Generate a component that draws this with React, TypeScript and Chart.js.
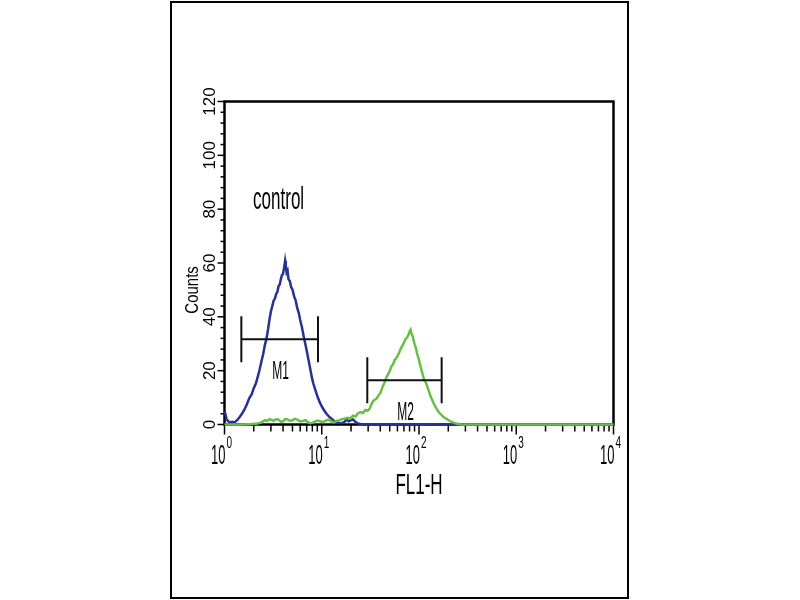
import { useEffect, useRef } from "react";
import { Chart, registerables } from "chart.js";

Chart.register(...registerables);

// blue trace (control)
const blueChannels = [
  1.0, 1.02, 1.05, 1.09, 1.14, 1.2, 1.27, 1.34, 1.42, 1.5, 1.6, 1.7, 1.8, 1.9,
  2.0, 2.1, 2.2, 2.3, 2.4, 2.5, 2.6, 2.7, 2.8, 2.9, 3.0, 3.1, 3.2, 3.3, 3.4,
  3.5, 3.6, 3.7, 3.8, 3.9, 4.0, 4.1, 4.2, 4.27, 4.35, 4.45, 4.55, 4.7, 4.85,
  5.0, 5.2, 5.4, 5.6, 5.8, 6.0, 6.25, 6.5, 6.75, 7.0, 7.3, 7.6, 7.9, 8.2, 8.6,
  9.0, 9.5, 10.0, 10.6, 11.2, 11.9, 12.6, 13.4, 14.2, 15, 16, 17, 18, 19, 20,
  21, 22, 23.5, 25, 27, 10000,
];
const blueCounts = [
  5, 4, 2, 1.2, 0.8, 1, 0.8, 1.5, 2.6, 3.8, 5.5, 7.5, 9.8, 11.2, 13.5, 15.2,
  17.8, 20.5, 23.5, 26.2, 29.5, 31.8, 35.2, 39, 42, 44, 46, 46.8, 48.5, 49.3,
  51.5, 52, 54, 55.5, 56, 58.2, 60.8, 59, 56.5, 57.2, 54, 53.2, 51, 50.2, 47.6,
  46, 43.2, 41.5, 38.8, 36.2, 33, 30.2, 27.5, 24.1, 20.8, 17.6, 15.2, 12.8,
  10.6, 8.4, 6.7, 5.2, 4, 2.9, 2.2, 1.3, 0.8, 0.6, 0.5, 0.9, 1.8, 1.2, 1.6,
  1.9, 1.1, 0.4, 0.2, 0, 0,
];

// green trace (sample)
const greenChannels = [
  1, 1.5, 1.9, 2.2, 2.4, 2.6, 2.75, 2.9, 3.05, 3.2, 3.4, 3.6, 3.8, 4.0, 4.2,
  4.45, 4.7, 5.0, 5.3, 5.6, 6.0, 6.4, 6.8, 7.2, 7.6, 8.0, 8.5, 9.0, 9.6, 10.3,
  11, 11.7, 12.5, 13.3, 14.2, 15.2, 16.2, 17.3, 18.5, 19.7, 21, 22.3, 23.6, 25,
  26.5, 28, 29.5, 31, 32.5, 34, 35.5, 37, 38.5, 40, 42, 44, 46, 48, 50, 52, 54,
  56, 58, 60, 62.5, 65, 67.5, 70, 72.5, 75, 77.5, 80, 82, 84, 86, 88, 90.5, 93,
  96, 99, 102, 105, 108, 111, 114, 118, 122, 126, 130, 135, 140, 146, 152,
  158, 165, 172, 180, 188, 197, 206, 216, 227, 240, 255, 270, 10000,
];
const greenCounts = [
  0, 0, 0.2, 0.4, 0.8, 1.6, 1.3, 2, 1.7, 1.4, 2, 1.8, 1, 1.2, 2, 1.9, 1.4, 1.6,
  2.1, 1.8, 1.1, 1.3, 1.6, 0.9, 0.5, 0.6, 1.1, 1.5, 1.2, 0.9, 1.4, 1.8, 1.2,
  0.8, 1.3, 1.6, 2, 2.2, 2.5, 2.3, 3.3, 3, 4.2, 4.6, 4.3, 5.4, 5.1, 5.8, 7.6,
  8.9, 9.3, 9.8, 11, 11.6, 13.8, 15.4, 17.3, 18.6, 19.8, 21.6, 22.3, 23.8,
  24.6, 25.4, 26.7, 28.2, 29.3, 30.4, 31.7, 32.2, 33.1, 34.5, 35.2, 33.6, 32.8,
  31.3, 29.6, 28.4, 26, 24.6, 22.5, 20.9, 19.2, 17.6, 16.4, 15.5, 14, 12.5, 11,
  9.6, 8.3, 6.9, 5.8, 4.8, 4, 3.4, 2.7, 2.3, 1.8, 1.4, 1, 0.7, 0.4, 0.2, 0, 0,
];

// gate markers
const markerNames = ["M1", "M2"];
const markerStart = [1.49, 29.4];
const markerEnd = [9.15, 171];
const markerLevel = [31.7, 16.4];

// axes
const xDecades = [1, 10, 100, 1000, 10000];
const xExponents = ["0", "1", "2", "3", "4"];
const yTicks = [0, 20, 40, 60, 80, 100, 120];
const yMinorStep = 4;

const controlLabel = "control";
const controlAt = { x: 3.6, y: 80 };
const xTitle = "FL1-H";
const yTitle = "Counts";

const FONT = '"Liberation Sans", Arial, sans-serif';

function tallText(
  ctx: CanvasRenderingContext2D,
  text: string,
  x: number,
  y: number,
  size: number,
  stretch: number,
  align: CanvasTextAlign,
  baseline: CanvasTextBaseline,
  rot = 0,
) {
  ctx.save();
  ctx.translate(x, y);
  if (rot) ctx.rotate(rot);
  ctx.scale(1, stretch);
  ctx.font = `${size}px ${FONT}`;
  ctx.fillStyle = "#000";
  ctx.textAlign = align;
  ctx.textBaseline = baseline;
  ctx.fillText(text, 0, 0);
  ctx.restore();
}

const histPlugin = {
  id: "histAxes",
  beforeDatasetsDraw(chart: any) {
    const { ctx, chartArea: a, scales } = chart;
    const xs = scales.x;
    const ys = scales.y;
    ctx.save();
    ctx.strokeStyle = "#000";

    // x ticks
    ctx.lineWidth = 1.5;
    xDecades.forEach((d, i) => {
      const px = xs.getPixelForValue(d);
      ctx.beginPath();
      ctx.moveTo(px, a.bottom);
      ctx.lineTo(px, a.bottom + 10);
      ctx.stroke();
      if (i < xDecades.length - 1) {
        for (let m = 2; m <= 9; m++) {
          const mx = xs.getPixelForValue(d * m);
          ctx.beginPath();
          ctx.moveTo(mx, a.bottom);
          ctx.lineTo(mx, a.bottom + 7);
          ctx.stroke();
        }
      }
    });

    // y ticks
    for (let v = 0; v <= 120; v += yMinorStep) {
      const py = ys.getPixelForValue(v);
      const major = yTicks.includes(v);
      ctx.beginPath();
      ctx.moveTo(a.left, py);
      ctx.lineTo(a.left - (major ? 7 : 4), py);
      ctx.stroke();
    }

    // frame
    ctx.lineWidth = 2.5;
    ctx.strokeRect(a.left, a.top, a.right - a.left, a.bottom - a.top);
    ctx.restore();

    // tick labels
    xDecades.forEach((d, i) => {
      const px = xs.getPixelForValue(d);
      tallText(ctx, "10", px + 1, a.bottom + 39, 13, 2.1, "right", "alphabetic");
      tallText(ctx, xExponents[i], px + 2, a.bottom + 23, 10, 1.7, "left", "alphabetic");
    });
    yTicks.forEach((v) => {
      const py = ys.getPixelForValue(v);
      tallText(ctx, String(v), a.left - 14, py, 17, 1, "center", "middle", -Math.PI / 2);
    });

    // axis titles
    tallText(ctx, xTitle, (a.left + a.right) / 2, a.bottom + 69, 17, 1.7, "center", "alphabetic");
    tallText(ctx, yTitle, a.left - 32, ys.getPixelForValue(50), 15, 1.25, "center", "middle", -Math.PI / 2);
  },
  afterDatasetsDraw(chart: any) {
    const { ctx, scales } = chart;
    const xs = scales.x;
    const ys = scales.y;

    ctx.save();
    ctx.strokeStyle = "#111";
    ctx.lineWidth = 2;
    markerNames.forEach((name, i) => {
      const x0 = xs.getPixelForValue(markerStart[i]);
      const x1 = xs.getPixelForValue(markerEnd[i]);
      const py = ys.getPixelForValue(markerLevel[i]);
      ctx.beginPath();
      ctx.moveTo(x0, py);
      ctx.lineTo(x1, py);
      ctx.moveTo(x0, py - 23);
      ctx.lineTo(x0, py + 23);
      ctx.moveTo(x1, py - 23);
      ctx.lineTo(x1, py + 23);
      ctx.stroke();
      const mid = xs.getPixelForValue(Math.sqrt(markerStart[i] * markerEnd[i]));
      tallText(ctx, name, mid + 1, py + 40, 12, 2.2, "center", "alphabetic");
    });
    ctx.restore();

    tallText(
      ctx,
      controlLabel,
      xs.getPixelForValue(controlAt.x),
      ys.getPixelForValue(controlAt.y),
      17,
      1.8,
      "center",
      "alphabetic",
    );
  },
};

export default function App() {
  const canvasRef = useRef<HTMLCanvasElement | null>(null);

  useEffect(() => {
    if (!canvasRef.current) return;
    const chart = new Chart(canvasRef.current, {
      type: "line",
      data: {
        datasets: [
          {
            label: "sample",
            data: greenChannels.map((x, i) => ({ x, y: greenCounts[i] })),
            borderColor: "rgb(104, 190, 70)",
            borderWidth: 2.5,
            pointRadius: 0,
            tension: 0,
            clip: false,
          },
          {
            label: "control",
            data: blueChannels.map((x, i) => ({ x, y: blueCounts[i] })),
            borderColor: "rgb(38, 50, 148)",
            borderWidth: 2.5,
            pointRadius: 0,
            tension: 0,
            clip: false,
          },
        ],
      },
      options: {
        animation: false,
        responsive: true,
        maintainAspectRatio: false,
        events: [],
        layout: {
          padding: { left: 224.5, right: 186.5, top: 101.5, bottom: 175.5 },
        },
        scales: {
          x: { type: "logarithmic", min: 1, max: 10000, display: false },
          y: { type: "linear", min: 0, max: 120, display: false },
        },
        plugins: {
          legend: { display: false },
          tooltip: { enabled: false },
        },
      },
      plugins: [histPlugin],
    });
    return () => chart.destroy();
  }, []);

  return (
    <div
      style={{
        position: "fixed",
        left: 0,
        top: 0,
        width: 800,
        height: 600,
        background: "#fff",
      }}
    >
      <div
        style={{
          position: "absolute",
          left: 170,
          top: 1,
          width: 459,
          height: 598,
          border: "2px solid #000",
          boxSizing: "border-box",
        }}
      />
      <div style={{ position: "absolute", left: 0, top: 0, width: 800, height: 600 }}>
        <canvas ref={canvasRef}></canvas>
      </div>
    </div>
  );
}
